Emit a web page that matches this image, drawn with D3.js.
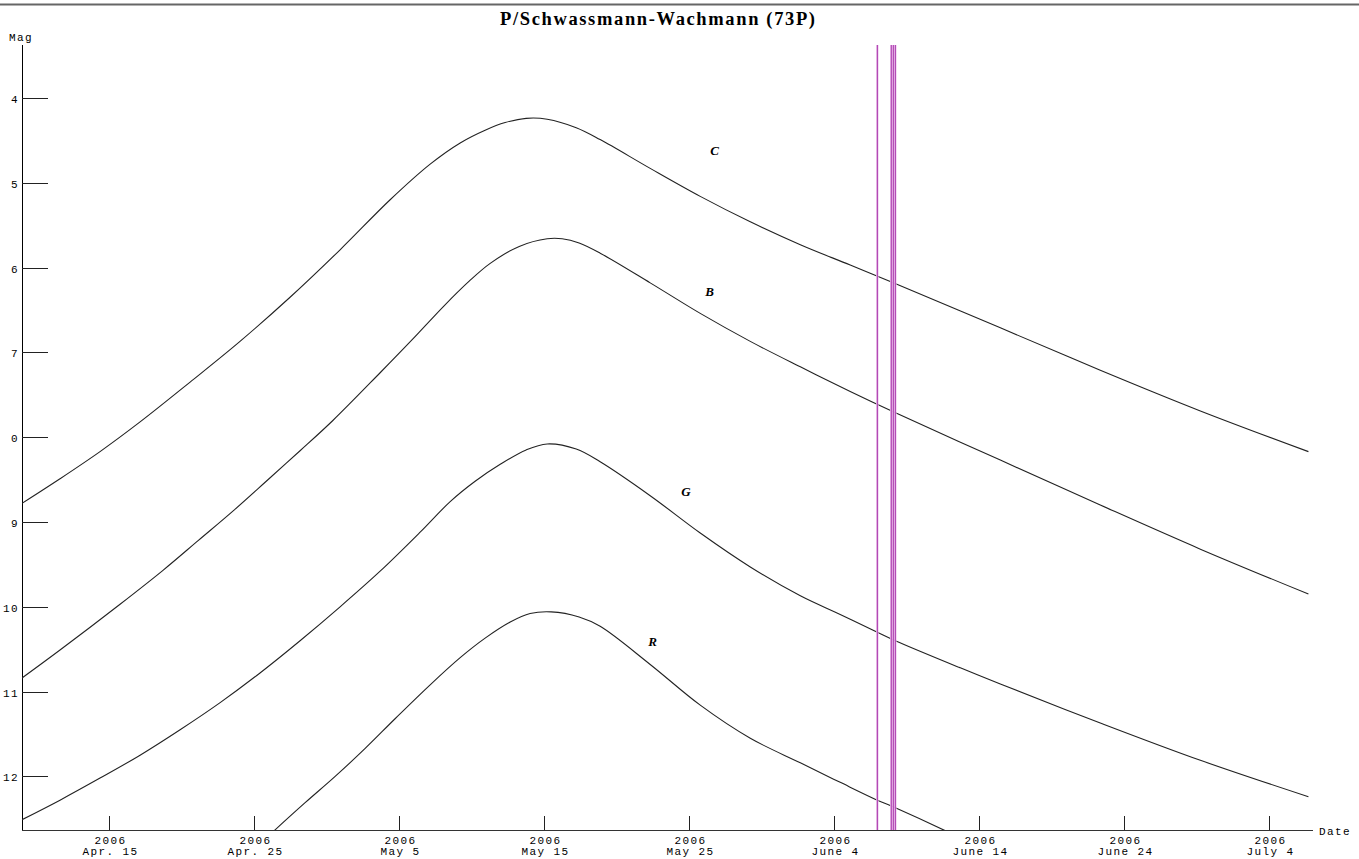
<!DOCTYPE html>
<html><head><meta charset="utf-8">
<script src="https://cdn.jsdelivr.net/npm/d3@7"></script>
<style>body{margin:0;background:#fff}svg{display:block}</style>
</head><body>
<script>
// Days after 2006-04-15 and magnitudes
const startDate = new Date(2006, 3, 15);
const cDays = [-6.00,-3.38,-0.62,2.14,5.59,9.03,12.48,15.93,19.38,22.14,24.21,25.93,27.31,28.76,30.21,32.21,33.86,37.31,40.76,44.21,47.66,51.10,54.07,61.45,68.34,75.24,82.69];
const cMags = [8.78,8.49,8.17,7.82,7.35,6.87,6.35,5.79,5.20,4.78,4.53,4.38,4.29,4.24,4.25,4.35,4.49,4.83,5.16,5.46,5.73,5.97,6.18,6.71,7.21,7.69,8.17];
const bDays = [-6.00,-3.38,0.76,3.72,6.14,8.62,11.03,13.17,15.45,18.69,20.90,23.10,24.83,26.28,28.28,30.21,31.24,32.41,33.86,37.31,40.76,44.21,47.66,51.10,54.07,61.45,68.34,75.24,82.69];
const bMags = [10.84,10.51,9.97,9.57,9.22,8.86,8.49,8.16,7.80,7.24,6.85,6.45,6.16,5.95,5.75,5.66,5.66,5.71,5.83,6.18,6.54,6.87,7.17,7.46,7.70,8.27,8.80,9.32,9.85];
const gDays = [-6.00,-3.38,-0.62,2.14,4.90,7.66,10.41,13.17,15.93,18.69,21.45,23.52,25.24,26.97,28.76,30.21,32.21,33.86,37.31,40.76,44.21,47.66,50.41,52.97,54.21,58.69,61.45,68.34,75.24,82.69];
const gMags = [12.51,12.28,12.02,11.75,11.45,11.13,10.78,10.40,10.00,9.58,9.12,8.76,8.52,8.32,8.15,8.08,8.14,8.29,8.69,9.13,9.53,9.87,10.09,10.30,10.40,10.72,10.91,11.37,11.81,12.24];
const rDays = [10.69,11.45,13.52,15.59,17.66,19.72,22.14,24.21,25.93,27.66,29.03,30.48,32.41,33.86,37.31,40.76,44.21,47.66,50.41,52.97,54.21,57.52,58.69];
const rMags = [12.75,12.63,12.31,12.00,11.67,11.32,10.92,10.60,10.37,10.18,10.08,10.06,10.12,10.23,10.68,11.16,11.55,11.84,12.07,12.28,12.37,12.63,12.73];
const seriesNames = ["C","B","G","R"];
const labelDays = [41.45,41.1,39.45,37.17];
const labelMags = [4.67,6.33,8.69,10.46];
const markerDays = [52.97,53.93,54.07,54.21];
const yTickValues = [4,5,6,7,8,9,10,11,12];
const yTickLabels = ["4","5","6","7","0","9","10","11","12"];
const xTickDays = [0,10,20,30,40,50,60,70,80];
const xTickLabels = ["Apr. 15","Apr. 25","May 5","May 15","May 25","June 4","June 14","June 24","July 4"];
const xTickYear = "2006";
const title = "P/Schwassmann-Wachmann (73P)";

const W = 1359, H = 859;
const dayToDate = d => new Date(startDate.getTime() + d * 86400000);
const svg = d3.select("body").append("svg").attr("width", W).attr("height", H)
  .style("font-family", "'Liberation Mono', 'DejaVu Sans Mono', monospace");

const x = d3.scaleTime().domain([dayToDate(-6), dayToDate(83.35)]).range([22, 1318]);
const y = d3.scaleLinear().domain([4, 12]).range([98, 776.4]);
const yTop = 45, yBot = 830, xL = 22, xR = 1313;

// top border
svg.append("line").attr("x1", 0).attr("x2", W).attr("y1", 4.5).attr("y2", 4.5)
  .attr("stroke", "#666").attr("stroke-width", 2);

svg.append("text").attr("x", 500).attr("y", 25)
  .attr("textLength", 315).attr("lengthAdjust", "spacing")
  .style("font-family", "'Liberation Serif', serif").style("font-weight", "bold")
  .style("font-size", "18.5px").text(title);

svg.append("defs").append("clipPath").attr("id", "clip").append("rect")
  .attr("x", xL).attr("y", yTop).attr("width", xR - xL).attr("height", yBot - yTop);

// axes
svg.append("line").attr("x1", xL + 0.5).attr("x2", xL + 0.5).attr("y1", yTop).attr("y2", yBot)
  .attr("stroke", "#000");
svg.append("line").attr("x1", xL).attr("x2", xR).attr("y1", yBot + 0.5).attr("y2", yBot + 0.5)
  .attr("stroke", "#333");

const lblStyle = sel => sel.style("font-size", "11px").style("letter-spacing", "1.4px");

const yAxis = svg.append("g");
yTickValues.forEach((v, i) => {
  const yy = Math.round(y(v)) + 0.5;
  yAxis.append("line").attr("x1", xL).attr("x2", 48).attr("y1", yy).attr("y2", yy).attr("stroke", "#222");
  yAxis.append("text").attr("x", 19).attr("y", yy + 4).attr("text-anchor", "end")
    .call(lblStyle).text(yTickLabels[i]);
});
svg.append("text").attr("x", 9).attr("y", 41).call(lblStyle).text("Mag");

const xAxis = svg.append("g");
xTickDays.forEach((d, i) => {
  const xx = Math.round(x(dayToDate(d))) + 0.5;
  xAxis.append("line").attr("x1", xx).attr("x2", xx).attr("y1", 816).attr("y2", yBot).attr("stroke", "#222");
  xAxis.append("text").attr("x", xx + 1).attr("y", 844).attr("text-anchor", "middle")
    .call(lblStyle).text(xTickYear);
  xAxis.append("text").attr("x", xx + 1).attr("y", 855).attr("text-anchor", "middle")
    .call(lblStyle).text(xTickLabels[i]);
});
svg.append("text").attr("x", 1319).attr("y", 835).call(lblStyle).text("Date");

// curves
const line = d3.line().x(p => x(dayToDate(p[0]))).y(p => y(p[1])).curve(d3.curveCatmullRom.alpha(0.5));
const plot = svg.append("g").attr("clip-path", "url(#clip)");
[[cDays, cMags], [bDays, bMags], [gDays, gMags], [rDays, rMags]].forEach(([ds, ms]) => {
  plot.append("path").datum(ds.map((d, i) => [d, ms[i]])).attr("d", line)
    .attr("fill", "none").attr("stroke", "#222").attr("stroke-width", 1.1);
});

// vertical markers (soft halo + core)
const markers = svg.append("g");
markerDays.forEach(d => {
  const xx = x(dayToDate(d));
  markers.append("line").attr("x1", xx).attr("x2", xx).attr("y1", yTop).attr("y2", yBot)
    .attr("stroke", "#ecc0ec").attr("stroke-width", 2.4);
});
markerDays.forEach(d => {
  const xx = x(dayToDate(d));
  markers.append("line").attr("x1", xx).attr("x2", xx).attr("y1", yTop).attr("y2", yBot)
    .attr("stroke", "#a834ac").attr("stroke-width", 1);
});

// series labels
seriesNames.forEach((n, i) => {
  svg.append("text").attr("x", x(dayToDate(labelDays[i]))).attr("y", y(labelMags[i]))
    .style("font-family", "'Liberation Serif', serif").style("font-style", "italic")
    .style("font-weight", "bold").style("font-size", "13px").text(n);
});
</script>
</body></html>
